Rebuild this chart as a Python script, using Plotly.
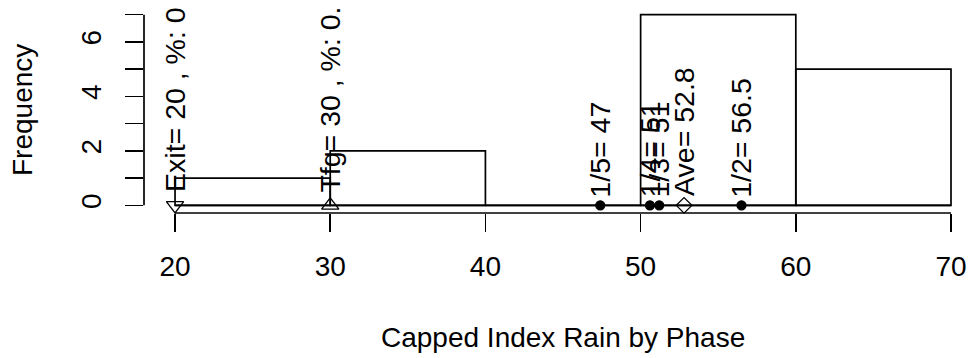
import plotly.graph_objects as go

# ---- data ----
bin_edges = [20, 30, 40, 50, 60, 70]
counts = [1, 2, 0, 7, 5]

marker_names = ["Exit", "Tfg", "1/5", "1/4", "1/3", "Ave", "1/2"]
marker_values = [20, 30, 47.4, 50.6, 51.2, 52.8, 56.5]
marker_labels = ["Exit= 20 , %: 0", "Tfg= 30 , %: 0.", "1/5= 47", "1/4= 51",
                 "1/3= 51", "Ave= 52.8", "1/2= 56.5"]
marker_symbols = ["triangle-down-open", "triangle-up-open", "circle", "circle",
                  "circle", "diamond-open", "circle"]

x_ticks = [20, 30, 40, 50, 60, 70]
y_ticks = [0, 1, 2, 3, 4, 5, 6, 7]
y_ticktext = ["0", "", "2", "", "4", "", "6", ""]

x_title = "Capped Index Rain by Phase"
y_title = "Frequency"

FONT = "Liberation Sans, Arial, Helvetica, sans-serif"
FS = 28
FS_LAB = 28.5
LW = 1.7

W, H = 972, 358

centers = [(a + b) / 2 for a, b in zip(bin_edges[:-1], bin_edges[1:])]
widths = [b - a for a, b in zip(bin_edges[:-1], bin_edges[1:])]

fig = go.Figure()

fig.add_trace(go.Bar(
    x=centers, y=counts, width=widths,
    marker=dict(color="rgba(255,255,255,0)", line=dict(color="black", width=LW)),
    showlegend=False, hoverinfo="skip",
))

# baseline across all bins (empty bins drawn flat)
fig.add_trace(go.Scatter(
    x=[bin_edges[0], bin_edges[-1]], y=[0, 0], mode="lines",
    line=dict(color="black", width=LW), showlegend=False, hoverinfo="skip",
))

sizes = {"triangle-down-open": 15, "triangle-up-open": 15, "circle": 9, "diamond-open": 12}
label_shift = {"triangle-down-open": 11, "triangle-up-open": 11, "circle": 6, "diamond-open": 7}
for v, s in zip(marker_values, marker_symbols):
    fig.add_trace(go.Scatter(
        x=[v], y=[0], mode="markers",
        marker=dict(symbol=s, size=sizes[s], color="black",
                    line=dict(color="black", width=1.3)),
        showlegend=False, hoverinfo="skip", cliponaxis=False,
    ))

for v, lab, s in zip(marker_values, marker_labels, marker_symbols):
    fig.add_annotation(
        x=v, y=0, xref="x", yref="y", text=lab, textangle=-90,
        showarrow=False, xanchor="center", yanchor="bottom", yshift=label_shift[s],
        font=dict(family=FONT, size=FS_LAB, color="black"),
    )

# axis lines (R style, only across tick range)
fig.add_shape(type="line", xref="x", yref="paper", x0=x_ticks[0], x1=x_ticks[-1],
              y0=0, y1=0, line=dict(color="black", width=LW))
fig.add_shape(type="line", xref="paper", yref="y", x0=0, x1=0,
              y0=y_ticks[0], y1=y_ticks[-1], line=dict(color="black", width=LW))

# axis titles
fig.add_annotation(x=45, y=0, xref="x", yref="paper", text=x_title, showarrow=False,
                   xanchor="center", yanchor="middle", yshift=-124,
                   font=dict(family=FONT, size=FS, color="black"))
fig.add_annotation(x=0, y=3.5, xref="paper", yref="y", text=y_title, showarrow=False,
                   textangle=-90, xanchor="center", yanchor="middle", xshift=-122,
                   font=dict(family=FONT, size=FS, color="black"))

fig.update_layout(
    width=W, height=H,
    margin=dict(l=144, r=0, t=7.4, b=145.4),
    paper_bgcolor="white", plot_bgcolor="white",
    bargap=0, showlegend=False, hovermode=False,
    font=dict(family=FONT, size=FS, color="black"),
)
fig.update_xaxes(
    range=[18, 71.353], tickvals=x_ticks, ticktext=[str(t) for t in x_ticks],
    ticks="outside", ticklen=18, tickwidth=LW, tickcolor="black",
    ticklabelstandoff=10,
    showline=False, showgrid=False, zeroline=False,
    tickfont=dict(family=FONT, size=FS, color="black"),
)
fig.update_yaxes(
    range=[-0.28, 7.28], tickvals=y_ticks, ticktext=y_ticktext,
    ticks="outside", ticklen=18, tickwidth=LW, tickcolor="black", tickangle=-90,
    ticklabelstandoff=13,
    showline=False, showgrid=False, zeroline=False,
    tickfont=dict(family=FONT, size=FS, color="black"),
)

# remove the default page margin so the figure sits at the window's corner
fig.write_html(
    "out.html",
    config={"displayModeBar": False, "staticPlot": True},
    post_script="document.body.style.margin='0';document.body.style.overflow='hidden';",
)
